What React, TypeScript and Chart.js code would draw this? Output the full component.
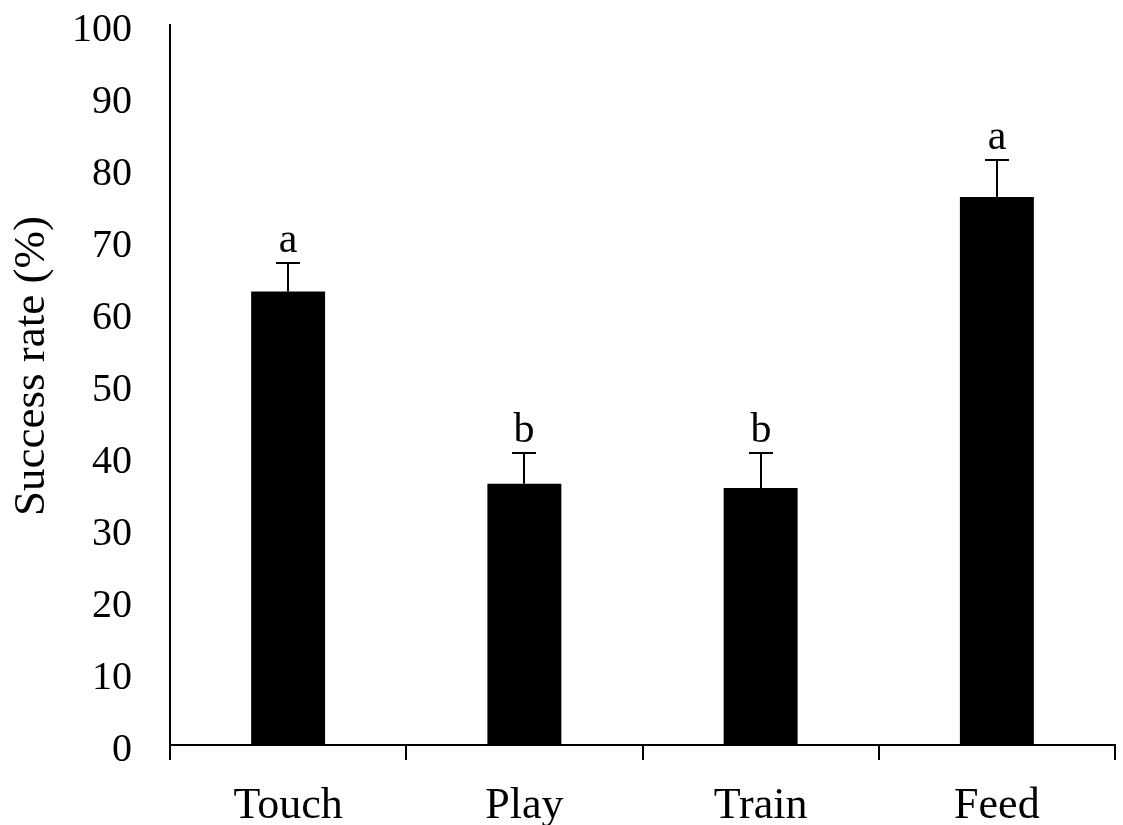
import React, { useEffect, useRef } from "react";
import { Chart, registerables } from "chart.js";

Chart.register(...registerables);

const categories = ["Touch", "Play", "Train", "Feed"];
const successRate = [63.0, 36.3, 35.7, 76.1];
const errorUpper = [4.0, 4.2, 4.8, 5.1];
const groupLetters = ["a", "b", "b", "a"];
const yTicks = [0, 10, 20, 30, 40, 50, 60, 70, 80, 90, 100];
const yTitle = "Success rate (%)";

const FONT = '"Liberation Serif", "Times New Roman", Times, serif';

const errorBarPlugin = {
  id: "errorBars",
  afterDatasetsDraw(chart: any) {
    const ctx = chart.ctx;
    const meta = chart.getDatasetMeta(0);
    const yScale = chart.scales.y;
    ctx.save();
    ctx.strokeStyle = "#000";
    ctx.fillStyle = "#000";
    ctx.lineWidth = 2;
    meta.data.forEach((bar: any, i: number) => {
      const x = Math.round(bar.x);
      const top = Math.round(yScale.getPixelForValue(successRate[i] + errorUpper[i]));
      const base = bar.y;
      ctx.beginPath();
      ctx.moveTo(x, base);
      ctx.lineTo(x, top);
      ctx.moveTo(x - 12, top);
      ctx.lineTo(x + 12, top);
      ctx.stroke();
      ctx.font = `42px ${FONT}`;
      ctx.textAlign = "center";
      ctx.textBaseline = "alphabetic";
      ctx.fillText(groupLetters[i], x, top - 11);
    });
    // y-axis title
    ctx.translate(32, 366);
    ctx.rotate(-Math.PI / 2);
    ctx.font = `45px ${FONT}`;
    ctx.textAlign = "center";
    ctx.textBaseline = "middle";
    ctx.fillText(yTitle, 0, 0);
    ctx.restore();
  },
};

export default function App() {
  const canvasRef = useRef<HTMLCanvasElement | null>(null);

  useEffect(() => {
    if (!canvasRef.current) return;
    const chart = new Chart(canvasRef.current, {
      type: "bar",
      data: {
        labels: categories,
        datasets: [
          {
            data: successRate,
            backgroundColor: "#000",
            borderWidth: 0,
            barPercentage: 0.313,
            categoryPercentage: 1,
          },
        ],
      },
      plugins: [errorBarPlugin],
      options: {
        animation: false,
        responsive: true,
        maintainAspectRatio: false,
        layout: { padding: { top: 25, right: 8, left: 0, bottom: 0 } },
        plugins: {
          legend: { display: false },
          tooltip: { enabled: false },
        },
        scales: {
          x: {
            offset: true,
            grid: {
              display: true,
              drawOnChartArea: false,
              drawTicks: true,
              tickLength: 15,
              color: "#000",
              lineWidth: 2,
              offset: true,
            },
            border: { display: true, color: "#000", width: 2 },
            ticks: {
              color: "#000",
              padding: 20,
              font: { family: FONT, size: 44 },
              maxRotation: 0,
            },
            afterFit: (scale: any) => {
              scale.height = 80;
              scale.paddingLeft = 0;
              scale.paddingRight = 0;
            },
          },
          y: {
            min: 0,
            max: 100,
            grid: { display: false, drawTicks: false },
            border: { display: true, color: "#000", width: 2 },
            afterBuildTicks: (scale: any) => {
              scale.ticks = yTicks.map((v) => ({ value: v }));
            },
            ticks: {
              color: "#000",
              padding: 38,
              labelOffset: 5,
              font: { family: FONT, size: 40 },
            },
            title: { display: false },
            afterFit: (scale: any) => {
              scale.width = 170;
              scale.paddingTop = 0;
              scale.paddingBottom = 0;
            },
          },
        },
      },
    });
    return () => chart.destroy();
  }, []);

  return (
    <div
      style={{
        position: "fixed",
        left: 0,
        top: 0,
        width: 1123,
        height: 825,
        background: "#fff",
      }}
    >
      <canvas ref={canvasRef} />
    </div>
  );
}
